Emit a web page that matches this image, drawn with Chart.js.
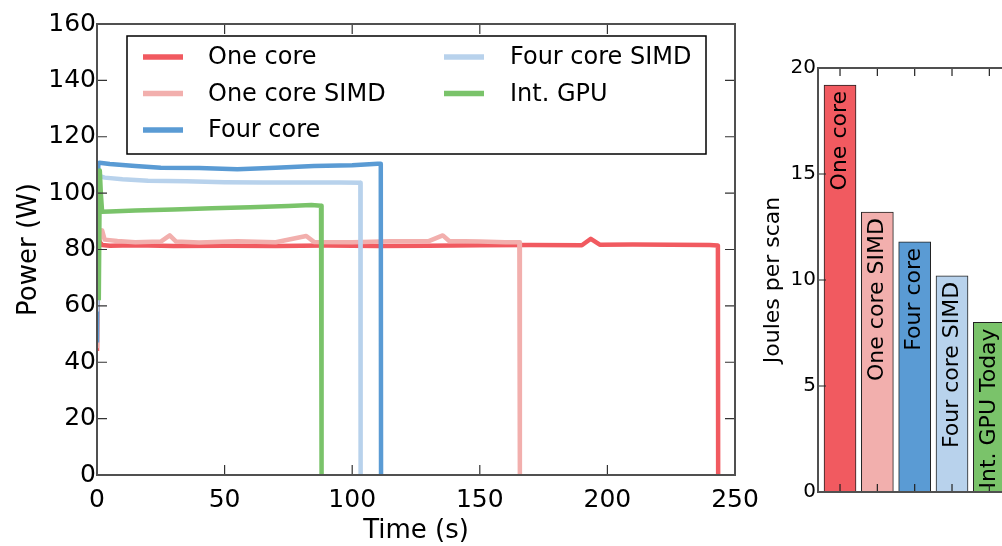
<!DOCTYPE html>
<html><head><meta charset="utf-8">
<script src="https://cdn.jsdelivr.net/npm/chart.js@4.4.1/dist/chart.umd.min.js"></script>
<style>
html,body{margin:0;padding:0;background:#fff;overflow:hidden;width:1002px;height:546px;}
#c1{position:absolute;left:0;top:0;}
#c2{position:absolute;left:740px;top:0;}
</style></head><body>
<canvas id="c1" width="800" height="546"></canvas>
<canvas id="c2" width="360" height="546"></canvas>
<script>
// ---------- data ----------
const seriesNames = ['One core', 'One core SIMD', 'Four core', 'Four core SIMD', 'Int. GPU'];
const seriesColors = ['#F15A60', '#F2AFAD', '#5A9BD4', '#B8D2EC', '#7AC36A'];

const timeOneCore  = [0, 0.6, 1.2, 2, 5, 15, 30, 50, 70, 90, 110, 130, 150, 170, 190, 193.5, 197, 210, 225, 240, 243.3, 243.4];
const powerOneCore = [44, 84, 82.5, 81.6, 81.3, 81.5, 81.2, 81.3, 81.2, 81.4, 81.2, 81.3, 81.5, 81.6, 81.5, 83.8, 81.7, 81.8, 81.7, 81.6, 81.4, 0];

const timeOneSimd  = [0, 0.5, 1.2, 2, 3, 8, 15, 25, 28.5, 31, 40, 55, 70, 82, 85, 100, 115, 130, 135.5, 138, 150, 160, 165.5, 165.7];
const powerOneSimd = [45, 86.5, 84, 86.8, 83.5, 83, 82.6, 82.8, 85, 82.8, 82.5, 82.9, 82.6, 84.8, 82.7, 82.6, 82.9, 83, 85, 83, 82.8, 82.6, 82.6, 0];

const timeFourCore  = [0, 0.5, 1, 5, 15, 25, 40, 55, 70, 85, 100, 110, 111.2, 111.3];
const powerFourCore = [47, 110.5, 110.8, 110.3, 109.6, 109, 108.9, 108.5, 109, 109.6, 109.9, 110.4, 110.4, 0];

const timeFourSimd  = [0, 0.6, 1.2, 3, 10, 20, 35, 50, 65, 80, 95, 103.2, 103.3];
const powerFourSimd = [58, 107.5, 106, 105.5, 104.9, 104.4, 104.2, 103.9, 103.8, 103.8, 103.8, 103.7, 0];

const timeGpu  = [0.7, 1.1, 1.5, 2, 5, 15, 30, 45, 60, 75, 84, 87.8, 88];
const powerGpu = [62, 108, 100, 93.4, 93.5, 93.8, 94.2, 94.6, 95, 95.4, 95.8, 95.5, 0];

const powerTicksY = [0, 20, 40, 60, 80, 100, 120, 140, 160];
const timeTicksX  = [0, 50, 100, 150, 200, 250];

const barCategories = ['One core', 'One core SIMD', 'Four core', 'Four core SIMD', 'Int. GPU Today'];
const joulesPerScan = [19.2, 13.2, 11.8, 10.2, 8.0];
const joulesTicksY  = [0, 5, 10, 15, 20];

// ---------- helpers ----------
const FONT = 'DejaVu Sans';
const zip = (xs, ys) => xs.map((x, i) => ({x: x, y: ys[i]}));
const times  = [timeOneCore, timeOneSimd, timeFourCore, timeFourSimd, timeGpu];
const powers = [powerOneCore, powerOneSimd, powerFourCore, powerFourSimd, powerGpu];

const frameTicks = {
  id: 'frameTicks',
  afterDraw(chart, args, opts) {
    const {ctx, chartArea: a, scales} = chart;
    ctx.save();
    ctx.strokeStyle = opts.tickColor; ctx.lineWidth = opts.tickWidth;
    const L = opts.len;
    ctx.beginPath();
    const xs = opts.xPixels(chart);
    xs.forEach(px => {
      ctx.moveTo(px, a.bottom); ctx.lineTo(px, a.bottom - L);
      ctx.moveTo(px, a.top); ctx.lineTo(px, a.top + L);
    });
    opts.yValues.forEach(v => {
      const py = scales.y.getPixelForValue(v);
      ctx.moveTo(a.left, py); ctx.lineTo(a.left + L, py);
      ctx.moveTo(a.right, py); ctx.lineTo(a.right - L, py);
    });
    ctx.stroke();
    ctx.strokeStyle = opts.frameColor; ctx.lineWidth = opts.frameWidth;
    ctx.strokeRect(a.left, a.top, a.right - a.left, a.bottom - a.top);
    ctx.restore();
  }
};

const boxLegend = {
  id: 'boxLegend',
  afterDraw(chart) {
    const {ctx} = chart;
    const ds = chart.data.datasets;
    ctx.save();
    ctx.fillStyle = '#fff';
    ctx.fillRect(127, 36, 579, 118);
    ctx.strokeStyle = '#000'; ctx.lineWidth = 1.5;
    ctx.strokeRect(127, 36, 579, 118);
    ctx.font = '24px "' + FONT + '"';
    ctx.textBaseline = 'middle';
    ctx.textAlign = 'left';
    const rows = [57, 93.5, 130];
    ds.forEach((d, i) => {
      const col = i < 3 ? 0 : 1;
      const row = i < 3 ? i : i - 3;
      const lx = col === 0 ? 143 : 444;
      const tx = col === 0 ? 208 : 510;
      const y = rows[row];
      ctx.strokeStyle = d.borderColor; ctx.lineWidth = 5.5; ctx.lineCap = 'butt';
      ctx.beginPath(); ctx.moveTo(lx, y); ctx.lineTo(lx + 40, y); ctx.stroke();
      ctx.fillStyle = '#000';
      ctx.fillText(d.label, tx, y + 1);
    });
    ctx.restore();
  }
};

const barLabels = {
  id: 'barLabels',
  afterDatasetsDraw(chart) {
    const {ctx} = chart;
    const meta = chart.getDatasetMeta(0);
    ctx.save();
    ctx.font = '22px "' + FONT + '"';
    ctx.fillStyle = '#000';
    ctx.textAlign = 'right';
    ctx.textBaseline = 'middle';
    meta.data.forEach((el, i) => {
      ctx.save();
      ctx.translate(el.x, el.y + 6);
      ctx.rotate(-Math.PI / 2);
      ctx.fillText(chart.data.labels[i], 0, 0);
      ctx.restore();
    });
    ctx.restore();
  }
};

// ---------- left: power over time ----------
const lineDatasets = seriesNames.map((name, i) => ({
  label: name,
  data: zip(times[i], powers[i]),
  borderColor: seriesColors[i],
  backgroundColor: seriesColors[i],
  borderWidth: 4.5,
  pointRadius: 0,
  showLine: true,
  tension: 0,
  borderJoinStyle: 'round',
  order: seriesNames.length - i
}));

new Chart(document.getElementById('c1'), {
  type: 'scatter',
  data: {datasets: lineDatasets},
  options: {
    responsive: false, animation: false,
    layout: {padding: {left: 0, right: 65, top: 24, bottom: 0}},
    plugins: {
      legend: {display: false}, tooltip: {enabled: false},
      frameTicks: {
        len: 10, tickColor: '#333', tickWidth: 1.2, frameColor: '#505050', frameWidth: 2,
        yValues: powerTicksY,
        xPixels: (c) => timeTicksX.map(v => c.scales.x.getPixelForValue(v))
      }
    },
    scales: {
      x: {
        type: 'linear', min: 0, max: 250,
        afterBuildTicks: (s) => { s.ticks = timeTicksX.map(v => ({value: v})); },
        afterFit: (s) => { s.height = 71; },
        grid: {display: false, drawTicks: false},
        border: {display: false},
        ticks: {color: '#000', font: {family: FONT, size: 25}, padding: 10, maxRotation: 0},
        title: {display: true, text: 'Time (s)', color: '#000', font: {family: FONT, size: 26, lineHeight: 1.1}, padding: {top: 0, bottom: 0}}
      },
      y: {
        type: 'linear', min: 0, max: 160,
        afterBuildTicks: (s) => { s.ticks = powerTicksY.map(v => ({value: v})); },
        afterFit: (s) => { s.width = 97; },
        grid: {display: false, drawTicks: false},
        border: {display: false},
        ticks: {color: '#000', font: {family: FONT, size: 25}, padding: 1},
        title: {display: true, text: 'Power (W)', color: '#000', font: {family: FONT, size: 26}, padding: {top: 14, bottom: 0}}
      }
    }
  },
  plugins: [frameTicks, boxLegend]
});

// ---------- right: joules per scan ----------
new Chart(document.getElementById('c2'), {
  type: 'bar',
  data: {
    labels: barCategories,
    datasets: [{
      data: barCategories.map((c, i) => ({x: i, y: joulesPerScan[i]})),
      backgroundColor: seriesColors,
      borderColor: '#222',
      borderWidth: 1,
      barThickness: 32
    }]
  },
  options: {
    responsive: false, animation: false,
    layout: {padding: {left: 0, right: 36, top: 68, bottom: 0}},
    plugins: {
      legend: {display: false}, tooltip: {enabled: false},
      frameTicks: {
        len: 8, tickColor: '#222', tickWidth: 1.2, frameColor: '#505050', frameWidth: 2,
        yValues: joulesTicksY,
        xPixels: (c) => barCategories.map((cat, i) => c.scales.x.getPixelForValue(i))
      }
    },
    scales: {
      x: {
        type: 'linear', min: -0.59, max: 6, offset: false,
        afterFit: (s) => { s.height = 54; },
        grid: {display: false, drawTicks: false},
        border: {display: false},
        ticks: {display: false}
      },
      y: {
        type: 'linear', min: 0, max: 20,
        afterBuildTicks: (s) => { s.ticks = joulesTicksY.map(v => ({value: v})); },
        afterFit: (s) => { s.width = 78; },
        grid: {display: false, drawTicks: false},
        border: {display: false},
        ticks: {color: '#000', font: {family: FONT, size: 20}, padding: 2},
        title: {display: true, text: 'Joules per scan', color: '#000', font: {family: FONT, size: 22}, padding: {top: 20, bottom: 0}}
      }
    }
  },
  plugins: [barLabels, frameTicks]
});
</script></body></html>
